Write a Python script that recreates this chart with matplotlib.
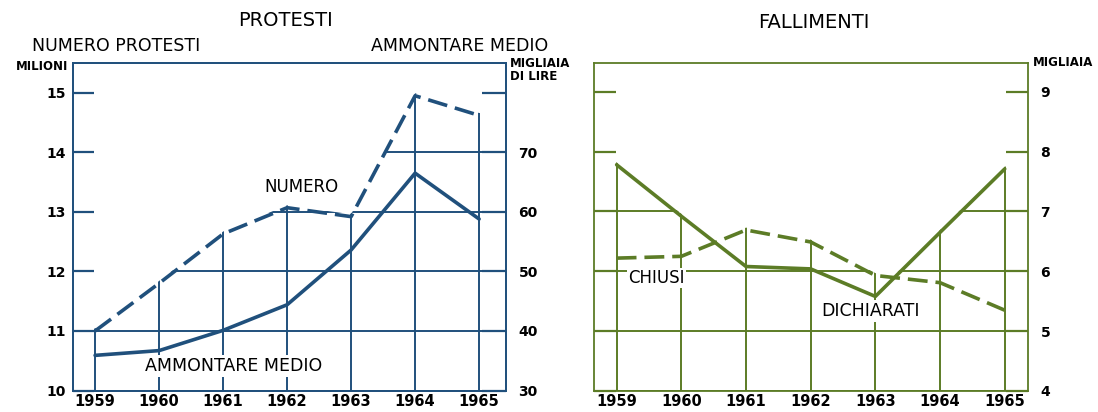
import numpy as np
import matplotlib
matplotlib.use("Agg")
import matplotlib.pyplot as plt
from matplotlib.patches import Polygon

# ---------------- data ----------------
years = [1959, 1960, 1961, 1962, 1963, 1964, 1965]
numero_protesti = [11.0, 11.8, 12.63, 13.07, 12.92, 14.95, 14.62]      # milioni
ammontare_medio = [35.9, 36.7, 40.1, 44.4, 53.6, 66.5, 58.8]           # migliaia di lire
fallimenti_dichiarati = [7.78, 6.92, 6.08, 6.04, 5.58, 6.65, 7.71]     # migliaia
fallimenti_chiusi = [6.22, 6.25, 6.69, 6.49, 5.93, 5.81, 5.35]         # migliaia

left_ticks = [10, 11, 12, 13, 14, 15]
right_ticks_prot = [30, 40, 50, 60, 70, 80]
right_labels_prot = ["30", "40", "50", "60", "70", ""]
right_ticks_fall = [4, 5, 6, 7, 8, 9]

BLUE = "#20507c"
GREEN = "#5c7c26"

W, H = 1098, 412
fig = plt.figure(figsize=(W / 100, H / 100), dpi=100)
fig.patch.set_facecolor("white")

DASH = (0, (5.5, 2.2))
LW = 2.6
GLW = 1.4


def envelope_clip(ax, xs, ys, xlim, ymin, margin):
    xd = np.linspace(xlim[0], xlim[1], 800)
    yd = np.interp(xd, xs, ys) + margin
    verts = [(xlim[0], ymin - 1)] + list(zip(xd, yd)) + [(xlim[1], ymin - 1)]
    return Polygon(verts, closed=True, transform=ax.transData,
                   facecolor="none", edgecolor="none")


def style_axes(ax, color):
    for s in ax.spines.values():
        s.set_color(color)
        s.set_linewidth(1.3)


# ---------------- PROTESTI ----------------
xl1 = (1958.65, 1965.42)
yl1 = (10, 15.5)
yl1r = (30, 85)
ax1 = fig.add_axes([72.7 / W, (H - 390.5) / H, (506 - 72.7) / W, (390.5 - 63) / H])
ax1.set_xlim(*xl1)
ax1.set_ylim(*yl1)
style_axes(ax1, BLUE)
tw = ax1.twinx()
tw.set_ylim(*yl1r)
style_axes(tw, BLUE)

# envelope (in left units) for clipping the grid
scale = (yl1[1] - yl1[0]) / (yl1r[1] - yl1r[0])
amm_left = [yl1[0] + (v - yl1r[0]) * scale for v in ammontare_medio]
env1 = np.maximum(numero_protesti, amm_left)
clip1 = envelope_clip(ax1, years, env1, xl1, yl1[0], 0.04)
hl = ax1.hlines(left_ticks, xl1[0], xl1[1], colors=BLUE, linewidth=GLW, zorder=1)
vl = ax1.vlines(years, yl1[0], yl1[1], colors=BLUE, linewidth=GLW, zorder=1)
hl.set_clip_path(clip1)
vl.set_clip_path(clip1)

ax1.plot(years, numero_protesti, color=BLUE, lw=LW, linestyle=DASH,
         dash_capstyle="butt", zorder=3)
tw.plot(years, ammontare_medio, color=BLUE, lw=LW, solid_capstyle="round", zorder=3)

ax1.set_xticks(years, [str(y) for y in years], fontweight="bold", fontsize=10.5)
ax1.set_yticks(left_ticks, [str(t) for t in left_ticks], fontweight="bold", fontsize=10)
tw.set_yticks(right_ticks_prot, right_labels_prot, fontweight="bold", fontsize=10)
ax1.tick_params(axis="x", length=0, pad=2.5)
ax1.tick_params(axis="y", direction="in", length=15, width=1.6, color=BLUE, pad=5)
tw.tick_params(axis="y", direction="in", length=17, width=1.6, color=BLUE, pad=9)

ax1.text(1962.23, 13.42, "NUMERO", ha="center", va="center", fontsize=12, zorder=4)
ax1.text(1961.17, 10.41, "AMMONTARE MEDIO", ha="center", va="center", fontsize=12.5,
         zorder=4, bbox=dict(facecolor="white", edgecolor="none", pad=1.5))

# ---------------- FALLIMENTI ----------------
xl2 = (1958.65, 1965.36)
yl2 = (4, 9.48)
ax2 = fig.add_axes([594 / W, (H - 391) / H, (1028 - 594) / W, (391 - 63) / H])
ax2.set_xlim(*xl2)
ax2.set_ylim(*yl2)
style_axes(ax2, GREEN)

xd2 = np.linspace(years[0], years[-1], 601)
env2d = np.maximum(np.interp(xd2, years, fallimenti_dichiarati),
                   np.interp(xd2, years, fallimenti_chiusi))
clip2 = envelope_clip(ax2, xd2, env2d, xl2, yl2[0], 0.04)
hl2 = ax2.hlines(right_ticks_fall, xl2[0], xl2[1], colors=GREEN, linewidth=GLW, zorder=1)
vl2 = ax2.vlines(years, yl2[0], yl2[1], colors=GREEN, linewidth=GLW, zorder=1)
hl2.set_clip_path(clip2)
vl2.set_clip_path(clip2)

ax2.plot(years, fallimenti_chiusi, color=GREEN, lw=LW, linestyle=DASH,
         dash_capstyle="butt", zorder=3)
ax2.plot(years, fallimenti_dichiarati, color=GREEN, lw=LW, solid_capstyle="round", zorder=3)

ax2.set_xticks(years, [str(y) for y in years], fontweight="bold", fontsize=10.5)
ax2.yaxis.tick_right()
ax2.set_yticks(right_ticks_fall, [str(t) for t in right_ticks_fall], fontweight="bold", fontsize=10)
ax2.tick_params(axis="x", length=0, pad=2.5)
ax2.tick_params(axis="y", which="both", left=True, right=True, direction="in",
                length=16, width=1.6, color=GREEN, pad=9)

ax2.text(1959.62, 5.89, "CHIUSI", ha="center", va="center", fontsize=12, zorder=4,
         bbox=dict(facecolor="white", edgecolor="none", pad=1.0))
ax2.text(1962.93, 5.33, "DICHIARATI", ha="center", va="center", fontsize=12.5, zorder=4,
         bbox=dict(facecolor="white", edgecolor="none", pad=1.5))

# ---------------- headings ----------------
def ft(x, y, s, **kw):
    fig.text(x / W, 1 - y / H, s, **kw)

ft(286, 21, "PROTESTI", ha="center", va="center", fontsize=14)
ft(814, 23, "FALLIMENTI", ha="center", va="center", fontsize=14)
ft(32, 46, "NUMERO PROTESTI", ha="left", va="center", fontsize=12.5)
ft(548, 46, "AMMONTARE MEDIO", ha="right", va="center", fontsize=12.5)
ft(68, 67, "MILIONI", ha="right", va="center", fontsize=8.5, fontweight="bold")
ft(510, 57, "MIGLIAIA\nDI LIRE", ha="left", va="top", fontsize=8.5,
   fontweight="bold", linespacing=1.05)
ft(1033, 63, "MIGLIAIA", ha="left", va="center", fontsize=8.5, fontweight="bold")

fig.savefig("out.png", dpi=100)
